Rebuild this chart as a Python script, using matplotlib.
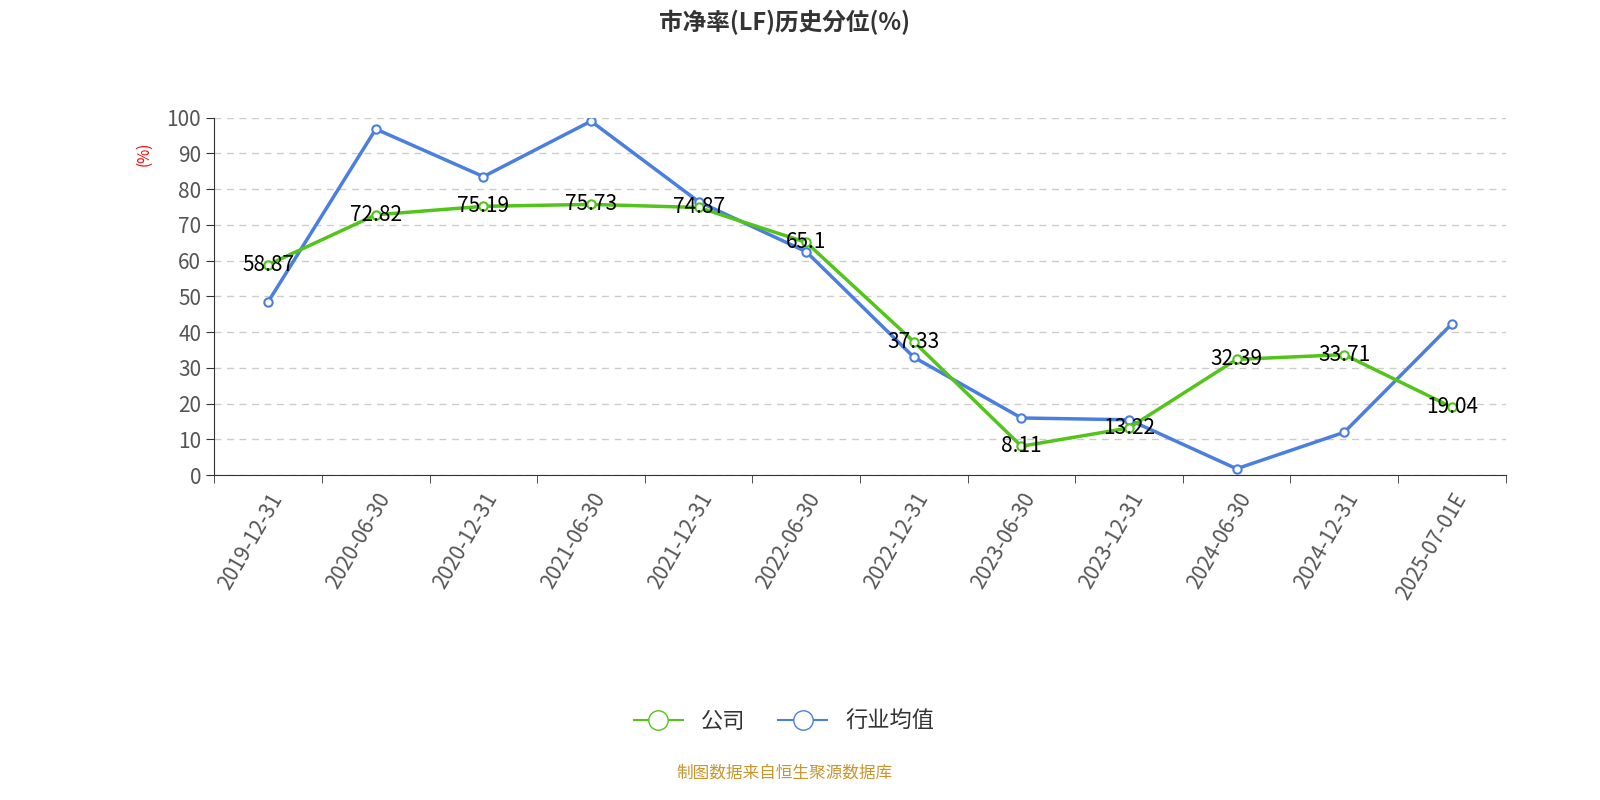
import matplotlib
matplotlib.use("Agg")
import matplotlib.pyplot as plt
from matplotlib import font_manager
from matplotlib.lines import Line2D
import numpy as np

cjk = [f.name for f in font_manager.fontManager.ttflist if "CJK" in f.name]
cjk = sorted(set(cjk), key=lambda n: (0 if "SC" in n else 1, n))
plt.rcParams["font.family"] = cjk + ["Noto Sans CJK SC", "DejaVu Sans"]

dates = ["2019-12-31", "2020-06-30", "2020-12-31", "2021-06-30", "2021-12-31", "2022-06-30",
         "2022-12-31", "2023-06-30", "2023-12-31", "2024-06-30", "2024-12-31", "2025-07-01E"]
company = [58.87, 72.82, 75.19, 75.73, 74.87, 65.1, 37.33, 8.11, 13.22, 32.39, 33.71, 19.04]
industry = [48.5, 96.8, 83.5, 99.0, 76.5, 62.5, 33.0, 16.0, 15.5, 1.8, 12.0, 42.3]

GREEN = "#52c41a"
BLUE = "#4a7fe0"

fig = plt.figure(figsize=(16, 8), dpi=100)
ax = fig.add_axes([0.134, 0.406, 0.807, 0.447])
x = np.arange(len(dates))

ax.plot(x, industry, color=BLUE, lw=2.5, marker="o", ms=6, mfc="white", mec=BLUE, mew=1.5, zorder=3)
ax.plot(x, company, color=GREEN, lw=2.5, marker="o", ms=6, mfc="white", mec=GREEN, mew=1.5, zorder=4)
for xi, v in zip(x, company):
    ax.text(xi, v, f"{v:g}", ha="center", va="center", fontsize=15, color="black", zorder=5)

ax.set_xlim(-0.5, len(dates) - 0.5)
ax.set_ylim(0, 100)
ax.set_yticks(range(0, 101, 10))
ax.yaxis.grid(True, ls=(0, (5, 4)), color="#cccccc", lw=1)
ax.set_axisbelow(True)
ax.set_xticks(x)
ax.set_xticklabels(dates, rotation=60, ha="right", rotation_mode="anchor", fontsize=15, color="#555555")
ax.tick_params(axis="x", length=0, pad=10)
ax.set_xticks(np.arange(-0.5, len(dates)), minor=True)
ax.tick_params(axis="x", which="minor", length=6, color="#333333")
ax.tick_params(axis="y", labelsize=15, labelcolor="#555555", length=6, color="#333333")
for s in ["top", "right"]:
    ax.spines[s].set_visible(False)
ax.spines["left"].set_color("#333333")
ax.spines["bottom"].set_color("#333333")
ax.set_ylabel("(%)", color="red", fontsize=11, labelpad=2)
ax.yaxis.set_label_coords(-0.048, 0.9)

fig.text(0.49, 0.972, "市净率(LF)历史分位(%)", ha="center", va="center", fontsize=17, fontweight="bold", color="#333333")

handles = [Line2D([], [], color=GREEN, lw=1.5, marker="o", ms=14, mfc="white", mec=GREEN),
           Line2D([], [], color=BLUE, lw=1.5, marker="o", ms=14, mfc="white", mec=BLUE)]
fig.legend(handles, ["公司", "行业均值"], loc="center", bbox_to_anchor=(0.49, 0.098), ncol=2,
           frameon=False, fontsize=16, handlelength=2.2, columnspacing=1.5, labelcolor="#333333")
fig.text(0.49, 0.034, "制图数据来自恒生聚源数据库", ha="center", va="center", fontsize=12, color="#c8962e")

fig.savefig("out.png", dpi=100)
